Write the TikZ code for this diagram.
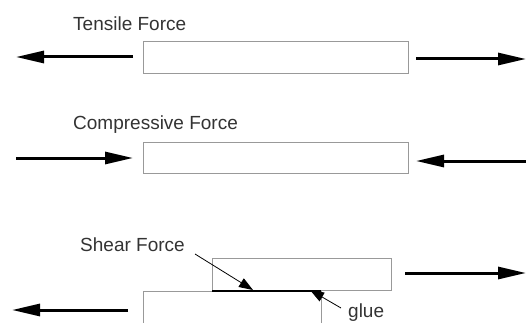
\documentclass[tikz,border=0pt]{standalone}
\usepackage{fontspec}
\setmainfont{Liberation Sans}
\usetikzlibrary{arrows.meta}
\begin{document}
\begin{tikzpicture}[x=1pt,y=-1pt,
  bar/.style={draw=black!40,line width=1pt,inner sep=0pt,anchor=north west},
  lbl/.style={text=black!80,font=\fontsize{19}{22}\selectfont,inner sep=0pt,anchor=west},
  force/.style={line width=3pt,-{Triangle[length=28pt,width=12pt]}},
  pointer/.style={line width=0.8pt,-{Triangle[length=14pt,width=10pt]}},
  glueline/.style={line width=2pt}]
\useasboundingbox (0,0) rectangle (526,323);
% Tensile
\node[bar,minimum width=265pt,minimum height=32pt] (t) at (143,41) {};
\node[lbl] (tl) at (73,24) {Tensile Force};
\coordinate (t1s) at (133,57); \coordinate (t1e) at (16,57);
\coordinate (t2s) at (416,59); \coordinate (t2e) at (526,59);
\draw[force] (t1s) -- (t1e);
\draw[force] (t2s) -- (t2e);
% Compressive
\node[bar,minimum width=265pt,minimum height=31pt] (c) at (143,142) {};
\node[lbl] (cl) at (73,125) {Compressive Force};
\coordinate (c1s) at (16,158); \coordinate (c1e) at (133,158);
\coordinate (c2s) at (526,161); \coordinate (c2e) at (416,161);
\draw[force] (c1s) -- (c1e);
\draw[force] (c2s) -- (c2e);
% Shear
\node[bar,minimum width=179pt,minimum height=32pt] (su) at (212,258) {};
\node[bar,minimum width=178pt,minimum height=40pt] (sl) at (143,291) {};
\node[lbl] (sh) at (80,245) {Shear Force};
\node[lbl] (gl) at (348,313) {glue};
\coordinate (g1) at (212,290.5); \coordinate (g2) at (321,290.5);
\draw[glueline] (g1) -- (g2);
\coordinate (p1s) at (195,254); \coordinate (p1e) at (253,290);
\coordinate (p2s) at (341,308); \coordinate (p2e) at (310,290);
\draw[pointer] (p1s) -- (p1e);
\draw[pointer] (p2s) -- (p2e);
\coordinate (s1s) at (405,273); \coordinate (s1e) at (526,273);
\coordinate (s2s) at (128,310); \coordinate (s2e) at (12,310);
\draw[force] (s1s) -- (s1e);
\draw[force] (s2s) -- (s2e);
\end{tikzpicture}
\end{document}
